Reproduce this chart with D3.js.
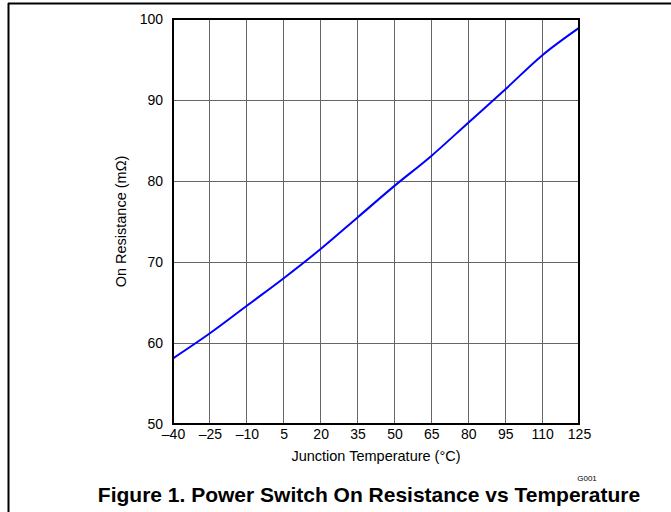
<!DOCTYPE html>
<meta charset="utf-8">
<head>
    <title></title>
    <script src="https://d3js.org/d3.v7.min.js"></script>
    <style>
        body {
          margin: 0;
          background: #fff;
          font-family: "Liberation Sans", Arial, sans-serif;
        }
        .grid line {
          stroke: #666;
          stroke-width: 1;
          shape-rendering: crispEdges;
        }
    </style>
</head>
<body>
<div id="my_dataviz"></div>
<script>

    // data
    var temps = [-40, -25, -10, 5, 20, 35, 50, 65, 80, 95, 110, 125];
    var resistance = [58.1, 61.2, 64.6, 68.0, 71.6, 75.5, 79.4, 83.1, 87.2, 91.3, 95.5, 98.9];
    var xTicks = [-40, -25, -10, 5, 20, 35, 50, 65, 80, 95, 110, 125];
    var yTicks = [50, 60, 70, 80, 90, 100];

    var W = 671, H = 512;
    var margin = {top: 19, left: 173},
        width = 406,
        height = 405;

    var root = d3.select("#my_dataviz")
      .append("svg")
        .attr("width", W)
        .attr("height", H)
        .style("font-family", "Liberation Sans, Arial, sans-serif");

    // page frame (top and left rules)
    root.append("line")
        .attr("x1", 8).attr("y1", 3.5).attr("x2", W).attr("y2", 3.5)
        .attr("stroke", "#000").attr("stroke-width", 2);
    root.append("line")
        .attr("x1", 8.5).attr("y1", 3).attr("x2", 8.5).attr("y2", H)
        .attr("stroke", "#000").attr("stroke-width", 2);

    var svg = root.append("g")
        .attr("transform", "translate(" + margin.left + "," + margin.top + ")");

    var x = d3.scaleLinear().domain([-40, 125]).range([0, width]);
    var y = d3.scaleLinear().domain([50, 100]).range([height, 0]);

    // grid
    svg.append("g").attr("class", "grid")
      .selectAll("line.v").data(xTicks.slice(1, -1)).enter().append("line")
        .attr("x1", function(d) { return x(d); })
        .attr("x2", function(d) { return x(d); })
        .attr("y1", 0).attr("y2", height);
    svg.append("g").attr("class", "grid")
      .selectAll("line.h").data(yTicks.slice(1, -1)).enter().append("line")
        .attr("y1", function(d) { return y(d); })
        .attr("y2", function(d) { return y(d); })
        .attr("x1", 0).attr("x2", width);

    // axes (labels only, frame drawn below)
    var fmt = function(d) { return d < 0 ? "\u2013" + Math.abs(d) : d; };
    var xAxis = svg.append("g")
        .attr("transform", "translate(0," + height + ")")
        .call(d3.axisBottom(x).tickValues(xTicks).tickSize(0).tickPadding(5).tickFormat(fmt));
    xAxis.select(".domain").remove();
    xAxis.selectAll("text")
        .style("font-family", "Liberation Sans, Arial, sans-serif")
        .style("font-size", "14px").attr("fill", "#000");

    var yAxis = svg.append("g")
        .call(d3.axisLeft(y).tickValues(yTicks).tickSize(0).tickPadding(10));
    yAxis.select(".domain").remove();
    yAxis.selectAll("text")
        .style("font-family", "Liberation Sans, Arial, sans-serif")
        .style("font-size", "14px").attr("fill", "#000");

    // curve
    var line = d3.line()
        .x(function(d, i) { return x(temps[i]); })
        .y(function(d) { return y(d); })
        .curve(d3.curveMonotoneX);
    svg.append("path")
        .datum(resistance)
        .attr("fill", "none")
        .attr("stroke", "#0000ff")
        .attr("stroke-width", 2)
        .attr("d", line);

    // plot frame
    svg.append("rect")
        .attr("x", 0).attr("y", 0)
        .attr("width", width).attr("height", height)
        .attr("fill", "none")
        .attr("stroke", "#000")
        .attr("stroke-width", 2);

    // axis titles
    svg.append("text")
        .attr("x", width / 2)
        .attr("y", height + 37)
        .attr("text-anchor", "middle")
        .style("font-size", "14.5px")
        .text("Junction Temperature (\u00B0C)");

    svg.append("text")
        .attr("transform", "translate(-47," + (height / 2) + ") rotate(-90)")
        .attr("text-anchor", "middle")
        .style("font-size", "14.5px")
        .text("On Resistance (m\u03A9)");

    svg.append("text")
        .attr("x", 414)
        .attr("y", height + 57)
        .attr("text-anchor", "middle")
        .style("font-size", "8px")
        .text("G001");

    // caption
    root.append("text")
        .attr("x", 369)
        .attr("y", 502)
        .attr("text-anchor", "middle")
        .style("font-size", "21px")
        .style("font-weight", "bold")
        .text("Figure 1. Power Switch On Resistance vs Temperature");

</script>
</body>
</html>
